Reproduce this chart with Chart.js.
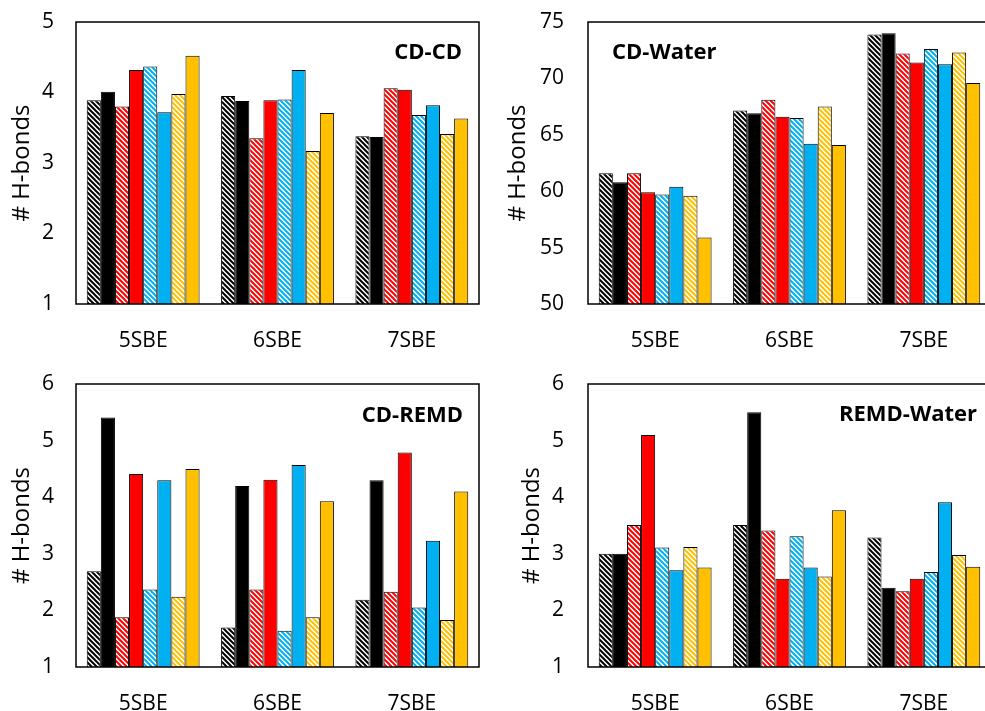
<!DOCTYPE html>
<html>
<head>
<meta charset="utf-8">
<script src="https://cdn.jsdelivr.net/npm/chart.js@4/dist/chart.umd.min.js"></script>
<style>
  html, body { margin: 0; padding: 0; background: #fff; overflow: hidden; width: 985px; height: 711px; }
  canvas { position: absolute; }
</style>
</head>
<body>
<canvas id="cdCd" width="495" height="360" style="left:0;top:0"></canvas>
<canvas id="cdWater" width="515" height="360" style="left:495px;top:0"></canvas>
<canvas id="cdRemd" width="495" height="360" style="left:0;top:360px"></canvas>
<canvas id="remdWater" width="515" height="360" style="left:495px;top:360px"></canvas>
<script>
const categories = ['5SBE', '6SBE', '7SBE']
const seriesNames = ['Black hatched', 'Black', 'Red hatched', 'Red', 'Blue hatched', 'Blue', 'Gold hatched', 'Gold']
const seriesColors = ['#000000', '#000000', '#FF0000', '#FF0000', '#00B0F0', '#00B0F0', '#FFC000', '#FFC000']
const seriesHatched = [true, false, true, false, true, false, true, false]

// one row per series, one value per category
const cdCdValues = [
  [3.89, 3.95, 3.38],
  [4.01, 3.88, 3.37],
  [3.80, 3.35, 4.06],
  [4.32, 3.89, 4.04],
  [4.37, 3.90, 3.68],
  [3.72, 4.32, 3.82],
  [3.98, 3.17, 3.41],
  [4.52, 3.71, 3.63]
]
const cdWaterValues = [
  [61.6, 67.15, 73.9],
  [60.8, 66.9, 74.0],
  [61.6, 68.1, 72.2],
  [59.9, 66.6, 71.4],
  [59.7, 66.5, 72.6],
  [60.4, 64.2, 71.25],
  [59.6, 67.5, 72.3],
  [55.9, 64.1, 69.6]
]
const cdRemdValues = [
  [2.69, 1.70, 2.19],
  [5.41, 4.20, 4.30],
  [1.88, 2.37, 2.33],
  [4.41, 4.31, 4.79],
  [2.37, 1.64, 2.05],
  [4.30, 4.57, 3.23],
  [2.24, 1.88, 1.83],
  [4.50, 3.93, 4.10]
]
const remdWaterValues = [
  [3.00, 3.51, 3.29],
  [3.00, 5.50, 2.40],
  [3.51, 3.41, 2.34],
  [5.10, 2.56, 2.56],
  [3.11, 3.31, 2.68],
  [2.71, 2.76, 3.91],
  [3.12, 2.60, 2.98],
  [2.76, 3.77, 2.77]
]

const panelTitles = ['CD-CD', 'CD-Water', 'CD-REMD', 'REMD-Water']
const yMins = [1, 50, 1, 1]
const yMaxs = [5, 75, 6, 6]
const ySteps = [1, 5, 1, 1]

Chart.defaults.font.family = '"Open Sans", sans-serif'
Chart.defaults.color = '#000'

function hatch(color) {
  const s = 5
  const c = document.createElement('canvas')
  c.width = s
  c.height = s
  const g = c.getContext('2d')
  g.fillStyle = '#fff'
  g.fillRect(0, 0, s, s)
  g.strokeStyle = color
  g.lineWidth = 2
  g.beginPath()
  for (let k = -1; k <= 1; k++) {
    g.moveTo(k * s - 1, -1)
    g.lineTo(k * s + s + 1, s + 1)
  }
  g.stroke()
  return g.createPattern(c, 'repeat')
}

// frame around plot area + panel name inside it
const panelDecor = {
  id: 'panelDecor',
  afterDraw(chart, args, opts) {
    const { ctx, chartArea: a } = chart
    ctx.save()
    ctx.strokeStyle = '#000'
    ctx.lineWidth = 1.5
    ctx.strokeRect(a.left, a.top, a.right - a.left, a.bottom - a.top)
    ctx.font = 'bold 22px "Open Sans"'
    ctx.fillStyle = '#000'
    ctx.textBaseline = 'middle'
    ctx.textAlign = opts.align
    const x = opts.align === 'right' ? a.right - opts.dx : a.left + opts.dx
    ctx.fillText(opts.text, x, a.top + opts.dy)
    ctx.restore()
  }
}

function makeChart(id, i, values, lay) {
  const datasets = values.map((row, s) => ({
    label: seriesNames[s],
    data: row,
    backgroundColor: seriesHatched[s] ? hatch(seriesColors[s]) : seriesColors[s],
    borderColor: '#000',
    borderWidth: 1,
    borderSkipped: false,
    barPercentage: 1,
    categoryPercentage: 0.84
  }))
  new Chart(document.getElementById(id), {
    type: 'bar',
    data: { labels: categories, datasets: datasets },
    plugins: [panelDecor],
    options: {
      responsive: false,
      animation: false,
      layout: { padding: { top: lay.top, right: lay.right, left: 0, bottom: 0 } },
      plugins: {
        legend: { display: false },
        tooltip: { enabled: false },
        panelDecor: { text: panelTitles[i], align: lay.align, dx: lay.dx, dy: lay.dy }
      },
      scales: {
        x: {
          grid: { display: false, drawTicks: false },
          border: { display: false },
          ticks: { font: { size: 21 }, padding: 24 },
          afterFit: (scale) => { scale.height = lay.xh }
        },
        y: {
          min: yMins[i],
          max: yMaxs[i],
          grid: { display: false, drawTicks: false },
          border: { display: false },
          ticks: { stepSize: ySteps[i], font: { size: 21 }, padding: lay.tp },
          title: { display: true, text: '# H-bonds', font: { size: 24 }, padding: { top: lay.tt, bottom: 0 } },
          afterFit: (scale) => {
            scale.width = lay.yw
            // keep tick padding from pushing the plot down
            scale.paddingTop = 0
            scale.paddingBottom = 0
          }
        }
      }
    }
  })
}

makeChart('cdCd', 0, cdCdValues, { top: 22, right: 16, xh: 56, yw: 76, tp: 22, tt: 8, align: 'right', dx: 17, dy: 31 })
makeChart('cdWater', 1, cdWaterValues, { top: 22, right: 19, xh: 56, yw: 93, tp: 24, tt: 9, align: 'left', dx: 24, dy: 31 })
makeChart('cdRemd', 2, cdRemdValues, { top: 24, right: 16, xh: 53, yw: 76, tp: 22, tt: 8, align: 'right', dx: 16, dy: 32 })
makeChart('remdWater', 3, remdWaterValues, { top: 24, right: 19, xh: 53, yw: 93, tp: 24, tt: 23, align: 'right', dx: 14, dy: 31 })
</script>
</body>
</html>
